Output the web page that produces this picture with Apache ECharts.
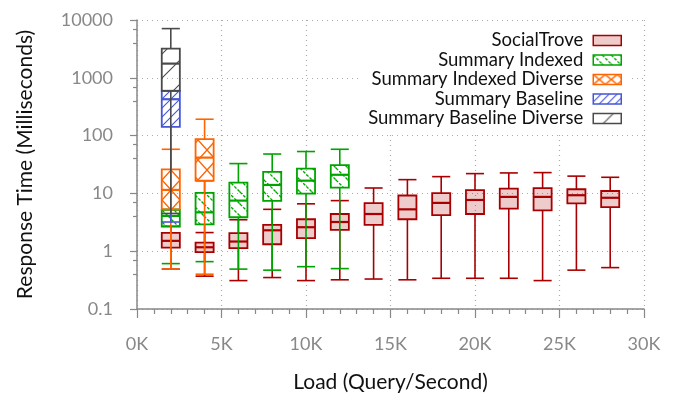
<!DOCTYPE html>
<html>
<head>
<meta charset="utf-8">
<script src="https://cdn.jsdelivr.net/npm/echarts@6/dist/echarts.min.js"></script>
<style>
  html, body { margin: 0; padding: 0; background: #fff; }
  #chart { width: 682px; height: 398px; }
</style>
</head>
<body>
<div id="chart"></div>
<script>
// Response-time distributions (ms) per load level: [low, q1, median, q3, high]
const socialTroveLoads = [2000, 4000, 6000, 8000, 10000, 12000, 14000, 16000, 18000, 20000, 22000, 24000, 26000, 28000];
const socialTroveStats = [
  [0.49, 1.15, 1.51, 2.07, 2.7],
  [0.37, 0.96, 1.17, 1.41, 2.1],
  [0.31, 1.13, 1.47, 2.05, 3.5],
  [0.35, 1.32, 2.3, 2.85, 5.3],
  [0.31, 1.68, 2.6, 3.57, 6.6],
  [0.32, 2.33, 3.2, 4.4, 7.5],
  [0.33, 2.85, 4.4, 6.8, 12.4],
  [0.32, 3.57, 5.3, 9.2, 17.3],
  [0.34, 4.2, 6.85, 10.1, 19.5],
  [0.34, 4.4, 7.7, 11.4, 22],
  [0.34, 5.46, 8.7, 12.1, 22.6],
  [0.31, 5.1, 8.7, 12.3, 22.9],
  [0.47, 6.7, 9.3, 11.8, 19.9],
  [0.52, 5.8, 8.4, 11, 19]
];

const indexedLoads = [2000, 4000, 6000, 8000, 10000, 12000];
const indexedStats = [
  [0.61, 2.67, 4.08, 5.2, 5.3],
  [0.66, 2.9, 4.7, 10.2, 16.5],
  [0.49, 3.87, 7.5, 15.4, 32.8],
  [0.47, 7.4, 14, 23.5, 48],
  [0.54, 9.9, 16.6, 26.8, 53],
  [0.5, 12.6, 21, 30.8, 58]
];

const indexedDiverseLoads = [2000, 4000];
const indexedDiverseStats = [
  [0.49, 5.3, 11.5, 26, 58],
  [0.40, 16.6, 41.6, 87, 192]
];

const baselineLoads = [2000];
const baselineStats = [
  [3.2, 142, 426, 593, 600]
];

const baselineDiverseLoads = [2000];
const baselineDiverseStats = [
  [4.5, 593, 1760, 3200, 7100]
];

const seriesNames = ['SocialTrove', 'Summary Indexed', 'Summary Indexed Diverse', 'Summary Baseline', 'Summary Baseline Diverse'];
const yTickValues = [0.1, 1, 10, 100, 1000, 10000];

// ---- styling ----
const FONT = 'Lato';
const BOX_WIDTH = 1070;           // box width in load units
const COLORS = {
  red: '#a80000',
  green: '#00a400',
  orange: '#ff6400',
  blue: '#4656d6',
  gray: '#4a4a4a'
};

function makeTile(w, h, draw) {
  const c = document.createElement('canvas');
  c.width = w; c.height = h;
  const ctx = c.getContext('2d');
  draw(ctx, w, h);
  return { image: c, repeat: 'repeat' };
}
// diagonal across one tile, with corner stubs so tiles join seamlessly
function diag(ctx, w, h, dir) {
  ctx.beginPath();
  if (dir > 0) {           // '/'
    ctx.moveTo(0, h); ctx.lineTo(w, 0);
    ctx.moveTo(-w * 0.1, h * 0.1); ctx.lineTo(w * 0.1, -h * 0.1);
    ctx.moveTo(w * 0.9, h * 1.1); ctx.lineTo(w * 1.1, h * 0.9);
  } else {                 // '\'
    ctx.moveTo(0, 0); ctx.lineTo(w, h);
    ctx.moveTo(w * 0.9, -h * 0.1); ctx.lineTo(w * 1.1, h * 0.1);
    ctx.moveTo(-w * 0.1, h * 0.9); ctx.lineTo(w * 0.1, h * 1.1);
  }
  ctx.stroke();
}

function greenHatch(s) {
  return makeTile(s, s, (ctx, w, h) => {
    ctx.strokeStyle = COLORS.green; ctx.lineWidth = 1.3;
    ctx.setLineDash([3, 1.5]);
    diag(ctx, w, h, -1);
  });
}
function orangeCross(w, h) {
  return makeTile(w, h, (ctx, tw, th) => {
    ctx.strokeStyle = COLORS.orange; ctx.lineWidth = 1.4;
    diag(ctx, tw, th, 1); diag(ctx, tw, th, -1);
  });
}
function blueHatch(s) {
  return makeTile(s, s, (ctx, w, h) => {
    ctx.strokeStyle = COLORS.blue; ctx.lineWidth = 1.1;
    diag(ctx, w, h, 1);
  });
}
function grayHatch(s) {
  return makeTile(s, s, (ctx, w, h) => {
    ctx.strokeStyle = COLORS.gray; ctx.lineWidth = 1.1;
    diag(ctx, w, h, 1);
  });
}

const boxFills = [
  'rgba(168,0,0,0.2)',
  greenHatch(12),
  orangeCross(18, 20),
  blueHatch(9),
  grayHatch(24)
];
const legendFills = [
  'rgba(168,0,0,0.2)',
  greenHatch(9),
  orangeCross(12, 10),
  blueHatch(8),
  grayHatch(20)
];

function boxRenderer(color, fill) {
  return function (params, api) {
    const x = api.value(0);
    const lo = api.value(1), q1 = api.value(2), med = api.value(3), q3 = api.value(4), hi = api.value(5);
    const pLo = api.coord([x, lo]);
    const pQ1 = api.coord([x, q1]);
    const pMed = api.coord([x, med]);
    const pQ3 = api.coord([x, q3]);
    const pHi = api.coord([x, hi]);
    const left = api.coord([x - BOX_WIDTH / 2, med])[0];
    const right = api.coord([x + BOX_WIDTH / 2, med])[0];
    const cx = pMed[0];
    const line = { stroke: color, lineWidth: 1.6 };
    return {
      type: 'group',
      children: [
        { type: 'line', shape: { x1: cx, y1: pQ1[1], x2: cx, y2: pLo[1] }, style: line },
        { type: 'line', shape: { x1: cx, y1: pQ3[1], x2: cx, y2: pHi[1] }, style: line },
        { type: 'line', shape: { x1: left, y1: pLo[1], x2: right, y2: pLo[1] }, style: line },
        { type: 'line', shape: { x1: left, y1: pHi[1], x2: right, y2: pHi[1] }, style: line },
        { type: 'rect', shape: { x: left, y: pQ3[1], width: right - left, height: pQ1[1] - pQ3[1] },
          style: { fill: fill, stroke: color, lineWidth: 1.8 } },
        { type: 'line', shape: { x1: left, y1: pMed[1], x2: right, y2: pMed[1] },
          style: { stroke: color, lineWidth: 2.2 } }
      ]
    };
  };
}

function toRows(loads, stats) {
  return loads.map((l, i) => [l].concat(stats[i]));
}

const groups = [
  { loads: socialTroveLoads, stats: socialTroveStats, color: COLORS.red },
  { loads: indexedLoads, stats: indexedStats, color: COLORS.green },
  { loads: indexedDiverseLoads, stats: indexedDiverseStats, color: COLORS.orange },
  { loads: baselineLoads, stats: baselineStats, color: COLORS.blue },
  { loads: baselineDiverseLoads, stats: baselineDiverseStats, color: COLORS.gray }
];

const series = groups.map((g, i) => ({
  name: seriesNames[i],
  type: 'custom',
  coordinateSystem: 'cartesian2d',
  encode: { x: 0, y: [1, 2, 3, 4, 5] },
  itemStyle: { color: legendFills[i], borderColor: g.color, borderWidth: 1.5 },
  renderItem: boxRenderer(g.color, boxFills[i]),
  data: toRows(g.loads, g.stats),
  z: 2 + i
}));

const chart = echarts.init(document.getElementById('chart'), null, { renderer: 'canvas' });
chart.setOption({
  animation: false,
  backgroundColor: '#fff',
  grid: { left: 137, right: 38, top: 20, bottom: 89 },
  legend: {
    orient: 'vertical',
    align: 'right',
    right: 52,
    top: 25,
    padding: [6, 8, 6, 8],
    backgroundColor: '#fff',
    itemWidth: 28,
    itemHeight: 10,
    itemGap: 0.5,
    icon: 'rect',
    textStyle: { fontFamily: FONT, fontSize: 18.5, color: '#111', lineHeight: 19, padding: [0, 5, 0, 0] },
    data: groups.map((g, i) => ({
      name: seriesNames[i],
      itemStyle: { color: legendFills[i], borderColor: g.color, borderWidth: 1.5 }
    })),
    z: 10
  },
  xAxis: {
    type: 'value',
    min: 0,
    max: 30000,
    interval: 5000,
    name: 'Load (Query/Second)',
    nameLocation: 'middle',
    nameGap: 63,
    nameTextStyle: { fontFamily: FONT, fontSize: 21, color: '#111' },
    axisLine: { lineStyle: { color: '#888', width: 1.5 } },
    axisTick: { length: 9, lineStyle: { color: '#888', width: 1.2 } },
    minorTick: { show: true, splitNumber: 5, length: 5, lineStyle: { color: '#888', width: 1.2 } },
    splitLine: { show: true, lineStyle: { color: '#aaa', type: [1, 4], width: 1.2 } },
    axisLabel: {
      margin: 26,
      fontFamily: FONT, fontSize: 18, color: '#888',
      formatter: v => (v / 1000) + 'K'
    }
  },
  yAxis: {
    type: 'log',
    logBase: 10,
    min: yTickValues[0],
    max: yTickValues[yTickValues.length - 1],
    name: 'Response Time (Milliseconds)',
    nameLocation: 'middle',
    nameGap: 101,
    nameTextStyle: { fontFamily: FONT, fontSize: 21, color: '#111' },
    axisLine: { show: true, lineStyle: { color: '#888', width: 1.5 } },
    axisTick: { show: true, length: 7, lineStyle: { color: '#888', width: 1.2 } },
    minorTick: { show: true, splitNumber: 3, length: 4, lineStyle: { color: '#888', width: 1.2 } },
    splitLine: { show: true, lineStyle: { color: '#aaa', type: [1, 4], width: 1.2 } },
    axisLabel: {
      margin: 24,
      fontFamily: FONT, fontSize: 18, color: '#888',
      formatter: v => {
        const match = yTickValues.find(t => Math.abs(Math.log10(t) - Math.log10(v)) < 1e-6);
        return match !== undefined ? String(match) : '';
      }
    }
  },
  series: series
});
</script>
</body>
</html>
